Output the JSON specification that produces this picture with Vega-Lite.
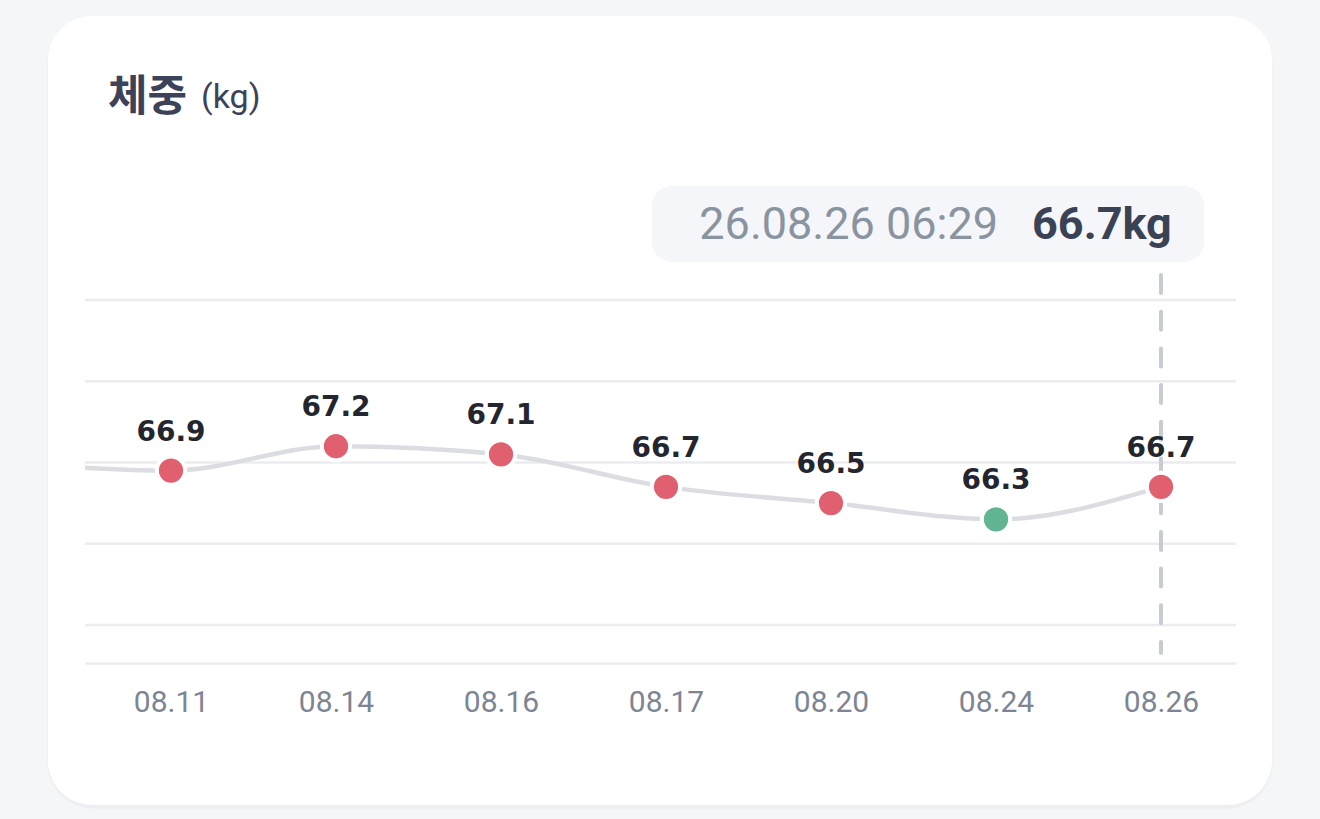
{
  "$schema": "https://vega.github.io/schema/vega-lite/v6.json",
  "width": 1151,
  "height": 363,
  "autosize": {"type": "none"},
  "padding": {"left": 85, "top": 300, "right": 84, "bottom": 156},
  "background": "#f5f6f8",
  "config": {
    "view": {"stroke": null},
    "axisY": {"disable": true},
    "axisX": {"grid": false}
  },
  "datasets": {
    "weights": [
      {"i": -1, "date": "08.09", "w": 67.0, "kind": "normal"},
      {"i": 0, "date": "08.11", "w": 66.9, "kind": "normal"},
      {"i": 1, "date": "08.14", "w": 67.2, "kind": "normal"},
      {"i": 2, "date": "08.16", "w": 67.1, "kind": "normal"},
      {"i": 3, "date": "08.17", "w": 66.7, "kind": "normal"},
      {"i": 4, "date": "08.20", "w": 66.5, "kind": "normal"},
      {"i": 5, "date": "08.24", "w": 66.3, "kind": "min"},
      {"i": 6, "date": "08.26", "w": 66.7, "kind": "normal", "time": "26.08.26 06:29", "tip": "66.7kg"}
    ],
    "grid": [{"g": 65}, {"g": 66}, {"g": 67}, {"g": 68}, {"g": 69}],
    "one": [{"title": "체중", "unit": "(kg)"}]
  },
  "layer": [
    {
      "data": {"name": "one"},
      "mark": {"type": "rect", "clip": false, "cornerRadius": 46, "fill": "#eceef1"},
      "encoding": {
        "x": {"datum": -0.749, "type": "quantitative"},
        "x2": {"datum": 6.676},
        "y": {"datum": 72.48, "type": "quantitative"},
        "y2": {"datum": 62.74}
      }
    },
    {
      "data": {"name": "one"},
      "mark": {"type": "rect", "clip": false, "cornerRadius": 44, "fill": "#ffffff"},
      "encoding": {
        "x": {"datum": -0.7455, "type": "quantitative"},
        "x2": {"datum": 6.6727},
        "y": {"datum": 72.495, "type": "quantitative"},
        "y2": {"datum": 62.785}
      }
    },
    {
      "data": {"name": "grid"},
      "mark": {"type": "rule", "color": "#ebecf0", "strokeWidth": 2.5},
      "encoding": {
        "y": {"field": "g", "type": "quantitative"}
      }
    },
    {
      "data": {"name": "weights"},
      "mark": {"type": "line", "interpolate": "monotone", "clip": true, "color": "#dcdde3", "strokeWidth": 4.5},
      "encoding": {
        "x": {
          "field": "i",
          "type": "quantitative",
          "scale": {"domain": [-0.5212, 6.4545], "nice": false, "zero": false},
          "axis": {
            "title": null,
            "grid": false,
            "values": [0, 1, 2, 3, 4, 5, 6],
            "labelExpr": "['08.11','08.14','08.16','08.17','08.20','08.24','08.26'][datum.value]",
            "domain": true,
            "domainColor": "#ebecf0",
            "domainWidth": 2.5,
            "ticks": false,
            "labelFont": "Roboto",
            "labelFontSize": 30,
            "labelColor": "#7d8593",
            "labelPadding": 24,
            "labelFlush": false,
            "labelOverlap": false,
            "labelBound": false,
            "zindex": 1
          }
        },
        "y": {
          "field": "w",
          "type": "quantitative",
          "scale": {"domain": [64.532, 69], "nice": false, "zero": false}
        }
      }
    },
    {
      "data": {"name": "weights"},
      "transform": [{"filter": "datum.tip != null"}],
      "mark": {"type": "rule", "color": "#c8cbd2", "strokeWidth": 4, "strokeDash": [18, 18.7], "strokeCap": "round"},
      "encoding": {
        "x": {"field": "i", "type": "quantitative"},
        "y": {"datum": 69.308, "type": "quantitative"},
        "y2": {"datum": 64.655}
      }
    },
    {
      "data": {"name": "weights"},
      "transform": [{"filter": "datum.i >= 0"}],
      "mark": {"type": "point", "shape": "circle", "filled": true, "size": 800, "stroke": "#ffffff", "strokeWidth": 4, "opacity": 1, "strokeOpacity": 1},
      "encoding": {
        "x": {"field": "i", "type": "quantitative"},
        "y": {"field": "w", "type": "quantitative"},
        "fill": {
          "field": "kind",
          "type": "nominal",
          "scale": {"domain": ["normal", "min"], "range": ["#e0606f", "#62b592"]},
          "legend": null
        }
      }
    },
    {
      "data": {"name": "weights"},
      "transform": [{"filter": "datum.i >= 0"}],
      "mark": {"type": "text", "font": "DejaVu Sans", "fontWeight": "bold", "fontSize": 28, "color": "#23262f", "baseline": "middle", "dy": -38},
      "encoding": {
        "x": {"field": "i", "type": "quantitative"},
        "y": {"field": "w", "type": "quantitative"},
        "text": {"field": "w", "type": "quantitative", "format": ".1f"}
      }
    },
    {
      "data": {"name": "one"},
      "mark": {"type": "rect", "clip": false, "cornerRadius": 20, "fill": "#f4f6f9"},
      "encoding": {
        "x": {"datum": 2.9152, "type": "quantitative"},
        "x2": {"datum": 6.2606},
        "y": {"datum": 70.403, "type": "quantitative"},
        "y2": {"datum": 69.468}
      }
    },
    {
      "data": {"name": "weights"},
      "transform": [{"filter": "datum.tip != null"}],
      "mark": {"type": "text", "clip": false, "font": "Roboto", "fontSize": 45, "color": "#8a93a0", "align": "right", "baseline": "alphabetic"},
      "encoding": {
        "x": {"datum": 5.0121, "type": "quantitative"},
        "y": {"datum": 69.751, "type": "quantitative"},
        "text": {"field": "time"}
      }
    },
    {
      "data": {"name": "weights"},
      "transform": [{"filter": "datum.tip != null"}],
      "mark": {"type": "text", "clip": false, "font": "Roboto", "fontWeight": "bold", "fontSize": 45, "color": "#3a4256", "align": "left", "baseline": "alphabetic"},
      "encoding": {
        "x": {"datum": 5.2182, "type": "quantitative"},
        "y": {"datum": 69.751, "type": "quantitative"},
        "text": {"field": "tip"}
      }
    },
    {
      "data": {"name": "one"},
      "mark": {"type": "text", "clip": false, "font": "Noto Sans CJK KR", "fontWeight": "bold", "fontSize": 43, "color": "#3c4358", "align": "left", "baseline": "alphabetic"},
      "encoding": {
        "x": {"datum": -0.3818, "type": "quantitative"},
        "y": {"datum": 71.33, "type": "quantitative"},
        "text": {"field": "title"}
      }
    },
    {
      "data": {"name": "one"},
      "mark": {"type": "text", "clip": false, "font": "Roboto", "fontSize": 34, "color": "#3c4358", "align": "left", "baseline": "alphabetic"},
      "encoding": {
        "x": {"datum": 0.1818, "type": "quantitative"},
        "y": {"datum": 71.36, "type": "quantitative"},
        "text": {"field": "unit"}
      }
    }
  ]
}
